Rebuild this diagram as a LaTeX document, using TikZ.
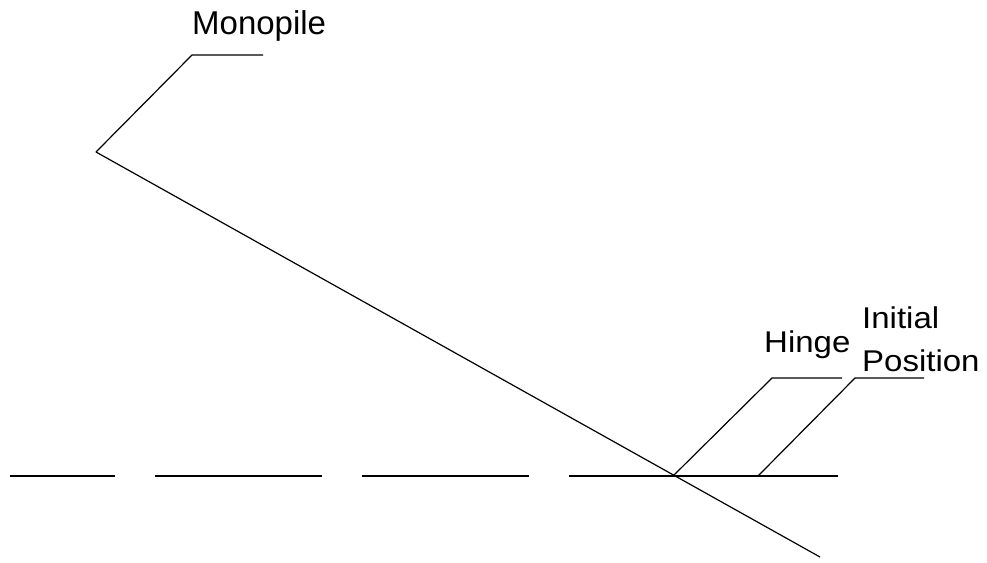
\documentclass[tikz,border=0pt]{standalone}
\usepackage{fontspec}
\setmainfont{Liberation Sans}
\newfontfamily\lblfont[FakeStretch=1.1]{Liberation Sans}
\begin{document}
\begin{tikzpicture}[x=1pt,y=-1pt,
  ln/.style={line width=1.2pt, black},
  biglbl/.style={anchor=base west, inner sep=0pt, font=\fontsize{33}{40}\selectfont},
  smlbl/.style={anchor=base west, inner sep=0pt, font=\lblfont\fontsize{30}{34}\selectfont}]
\useasboundingbox (0,0) rectangle (987,562);
% key points
\coordinate (top) at (96,152);
\coordinate (bot) at (820,557);
\coordinate (hinge) at (673,476);
\coordinate (ip) at (758,476);
\coordinate (gl) at (10,476);
\coordinate (gr) at (838,476);
% monopile
\draw[ln] (top) -- (bot);
% ground / initial position
\draw[ln, dash pattern=on 167pt off 40pt, dash phase=62pt] (gl) -- (hinge);
\draw[ln] (hinge) -- (gr);
% labels
\node[biglbl] (mono) at (192,34) {Monopile};
\node[smlbl] (hin) at (764,352) {Hinge};
\node[smlbl] (ini) at (862,328) {Initial};
\node[smlbl] (pos) at (862,371) {Position};
% leaders
\coordinate (m1) at (192,55); \coordinate (m2) at (263,55);
\coordinate (h1) at (772,378); \coordinate (h2) at (842,378);
\coordinate (p1) at (855,378); \coordinate (p2) at (924,378);
\draw[ln] (top) -- (m1) -- (m2);
\draw[ln] (hinge) -- (h1) -- (h2);
\draw[ln] (ip) -- (p1) -- (p2);
\end{tikzpicture}
\end{document}
